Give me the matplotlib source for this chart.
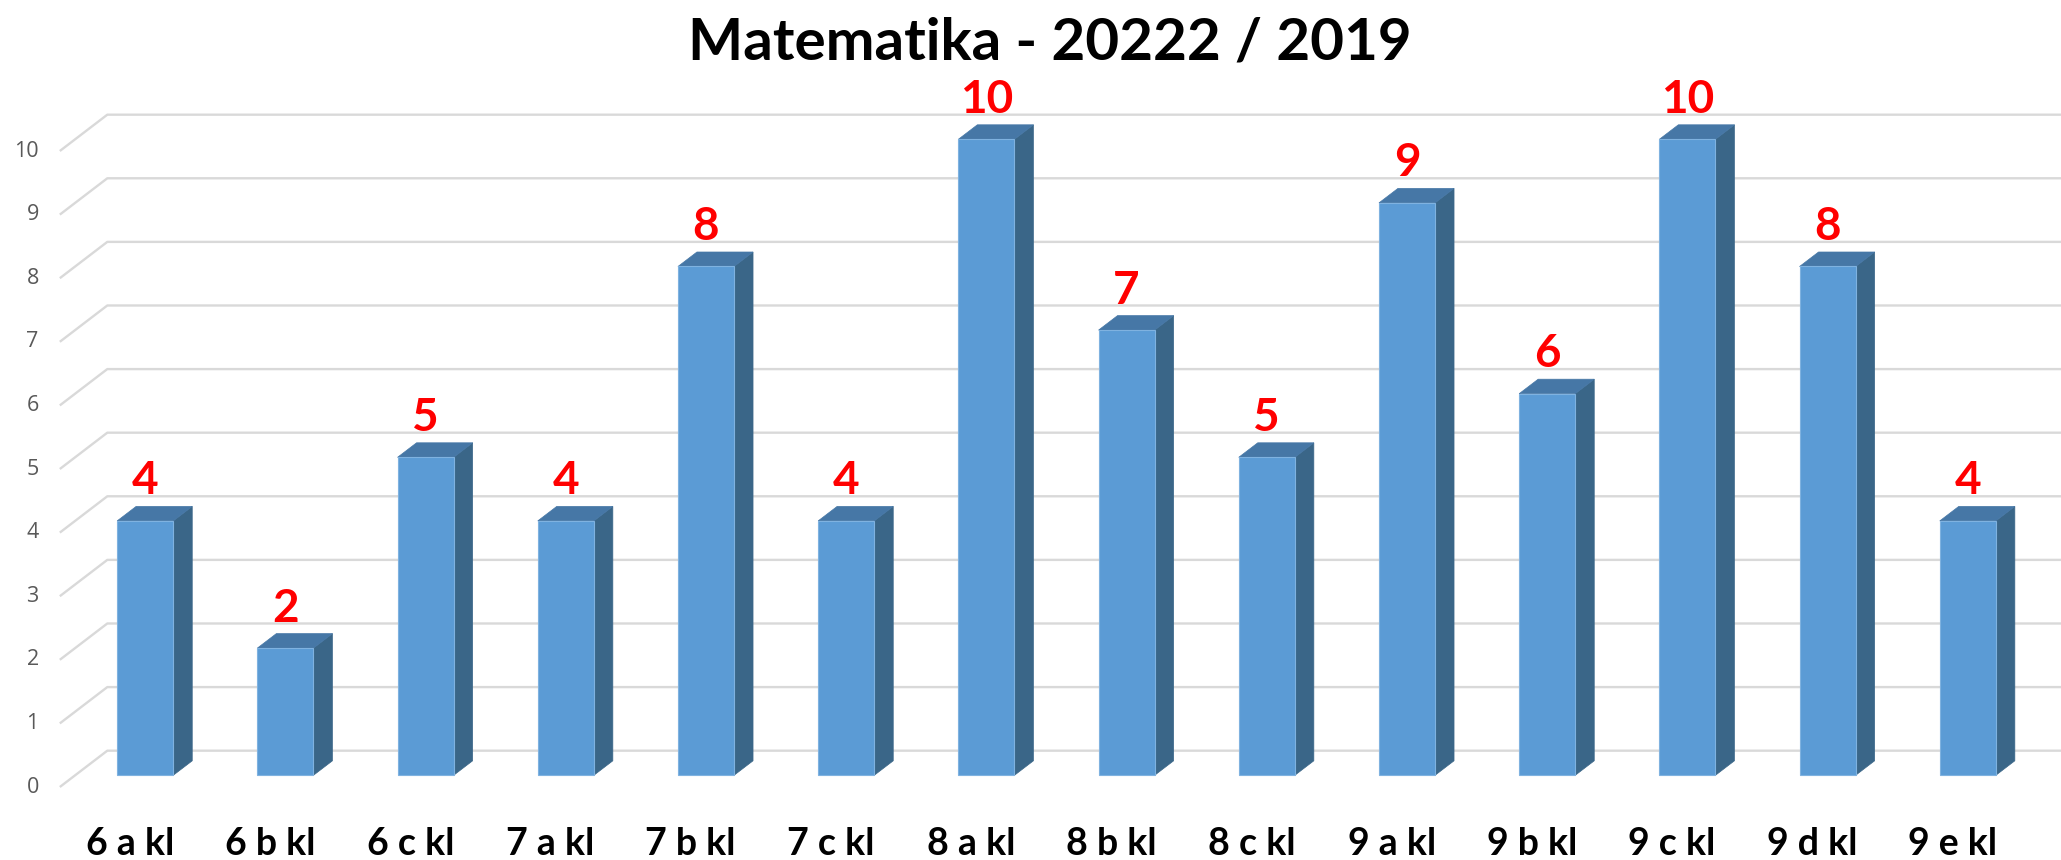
import matplotlib
matplotlib.use("Agg")
import matplotlib.pyplot as plt
from matplotlib.patches import Polygon

# ── Data ──────────────────────────────────────────────────────────────────────
classes = ["6 a kl", "6 b kl", "6 c kl", "7 a kl", "7 b kl", "7 c kl", "8 a kl",
           "8 b kl", "8 c kl", "9 a kl", "9 b kl", "9 c kl", "9 d kl", "9 e kl"]
counts = [4, 2, 5, 4, 8, 4, 10, 7, 5, 9, 6, 10, 8, 4]
y_ticks = list(range(0, 11))
title = "Matematika - 20222 / 2019"

# ── Style / fake-3D geometry (data units) ────────────────────────────────────
FRONT = "#5B9BD5"
TOP = "#4677A6"
SIDE = "#3A6688"
GRID = "#D9D9D9"
BAR_W = 0.40              # width of front face
DX, DY = 0.1355, 0.228    # bar depth offset
WX, WY = 0.2297, 0.387    # back wall offset from bar front plane
FX, FY = -0.109, -0.184   # floor front offset from bar front plane
LEFT = -0.5               # left edge of floor (bar front plane)

W, H = 2061, 860
fig = plt.figure(figsize=(W / 100, H / 100), dpi=100)
ax = fig.add_axes([0, 0, 1, 1])
# pixel mapping: x_px = 145.2 + 140.2*x ; y_px(top) = 775.3 - 63.6*v
ax.set_xlim(-145.2 / 140.2, (W - 145.2) / 140.2)
ax.set_ylim((775.3 - H) / 63.6, 775.3 / 63.6)
ax.axis("off")

right = ax.get_xlim()[1]

# gridlines: back wall line + diagonal on the left side
for v in y_ticks:
    ax.plot([LEFT + FX, LEFT + WX, right], [v + FY, v + WY, v + WY],
            color=GRID, lw=1.7, zorder=1, solid_capstyle="butt")
    ax.text(LEFT + FX - 0.15, v + FY, str(v), ha="right", va="center",
            fontsize=15.5, color="#595959", family="Open Sans")

# bars
for i, (lab, v) in enumerate(zip(classes, counts)):
    x0, x1 = i - BAR_W / 2, i + BAR_W / 2
    front = [(x0, 0), (x1, 0), (x1, v), (x0, v)]
    side = [(x1, 0), (x1 + DX, DY), (x1 + DX, v + DY), (x1, v)]
    top = [(x0, v), (x1, v), (x1 + DX, v + DY), (x0 + DX, v + DY)]
    ax.add_patch(Polygon(side, closed=True, facecolor=SIDE, edgecolor=SIDE,
                         lw=0.5, zorder=3))
    ax.add_patch(Polygon(top, closed=True, facecolor=TOP, edgecolor=TOP,
                         lw=0.5, zorder=3))
    ax.add_patch(Polygon(front, closed=True, facecolor=FRONT,
                         edgecolor="#7FB2E0", lw=0.8, zorder=4))
    # value label
    ax.text(i, v + DY + 0.19, str(v), ha="center", va="baseline",
            fontsize=33, fontweight="bold", color="#FF0000", family="Lato",
            zorder=5)
    # category label
    ax.text(i + FX, -0.813, lab, ha="center", va="top", fontsize=27,
            fontweight="bold", color="black", family="Lato")

fig.text(1050 / W, 1 - 59.7 / H, title, ha="center", va="baseline",
         fontsize=42, fontweight="bold", color="black", family="Lato")

fig.savefig("out.png", dpi=100, facecolor="white")
